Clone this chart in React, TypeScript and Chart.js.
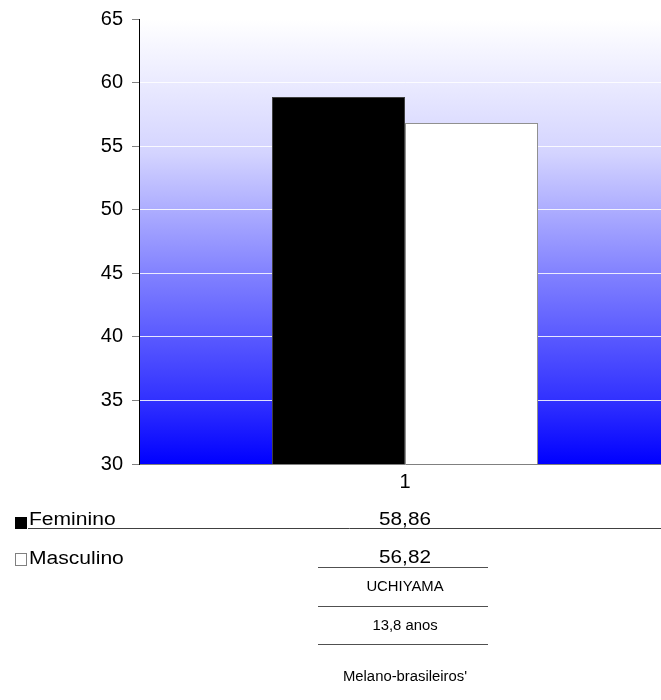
import React, { useEffect, useRef } from "react";
import { Chart, registerables } from "chart.js";

Chart.register(...registerables);

const categories = ["1"];
const femininoValues = [58.86];
const masculinoValues = [56.82];
const seriesNames = ["Feminino", "Masculino"];
const seriesColors = ["#000000", "#ffffff"];
const tableNotes = ["UCHIYAMA", "13,8 anos", "Melano-brasileiros'"];

const FONT = '"Liberation Sans", Arial, Helvetica, sans-serif';

const fmt = (v: number) => v.toFixed(2).replace(".", ",");

// Plot background: white at the top fading to pure blue at the base
const gradientBackground = {
  id: "gradientBackground",
  beforeDraw(chart: any) {
    const { ctx, chartArea } = chart;
    const g = ctx.createLinearGradient(0, chartArea.top, 0, chartArea.bottom);
    g.addColorStop(0, "#ffffff");
    g.addColorStop(0.3, "rgb(212,212,255)");
    g.addColorStop(0.57, "rgb(130,130,255)");
    g.addColorStop(0.86, "rgb(48,48,255)");
    g.addColorStop(1, "#0000ff");
    ctx.save();
    ctx.fillStyle = g;
    ctx.fillRect(chartArea.left, chartArea.top, chartArea.right - chartArea.left, chartArea.bottom - chartArea.top);
    ctx.restore();
  },
};

// text drawn slightly widened, like the table font of the original sheet
function wideText(ctx: CanvasRenderingContext2D, text: string, x: number, y: number, align: CanvasTextAlign, sx: number) {
  ctx.save();
  ctx.translate(x, y);
  ctx.scale(sx, 1);
  ctx.textAlign = align;
  ctx.fillText(text, 0, 0);
  ctx.restore();
}

// Data table under the chart: legend keys, values and notes
const dataTable = {
  id: "dataTable",
  afterDraw(chart: any) {
    const { ctx } = chart;
    const xScale = chart.scales.x;
    const cx = xScale.getPixelForValue(0);
    const width = chart.width;
    ctx.save();
    ctx.textBaseline = "middle";

    const values = [femininoValues[0], masculinoValues[0]];
    const boxTops = [517, 553];
    const nameYs = [520, 559];
    const valueYs = [520, 558];
    seriesNames.forEach((name, i) => {
      ctx.fillStyle = seriesColors[i];
      ctx.fillRect(15, boxTops[i], 12, 12);
      if (i === 1) {
        ctx.strokeStyle = "#808080";
        ctx.lineWidth = 1;
        ctx.strokeRect(15.5, boxTops[i] + 0.5, 11, 12);
      }
      ctx.fillStyle = "#000";
      ctx.font = `18px ${FONT}`;
      wideText(ctx, name, 29, nameYs[i], "left", 1.17);
      wideText(ctx, fmt(values[i]), cx, valueYs[i], "center", 1.15);
    });

    // full-width rule under the first row
    ctx.strokeStyle = "#404040";
    ctx.lineWidth = 1;
    ctx.beginPath();
    ctx.moveTo(28, 528.5);
    ctx.lineTo(width, 528.5);
    ctx.stroke();

    // column rules
    const ruleYs = [567.5, 606.5, 644.5];
    ctx.strokeStyle = "#505050";
    ruleYs.forEach((ry) => {
      ctx.beginPath();
      ctx.moveTo(cx - 87, ry);
      ctx.lineTo(cx + 83, ry);
      ctx.stroke();
    });

    // notes
    ctx.font = `14px ${FONT}`;
    ctx.fillStyle = "#000";
    const noteYs = [587, 626, 677];
    tableNotes.forEach((t, i) => wideText(ctx, t, cx, noteYs[i], "center", 1.06));
    ctx.restore();
  },
};

export default function App() {
  const canvasRef = useRef<HTMLCanvasElement | null>(null);

  useEffect(() => {
    if (!canvasRef.current) return;
    const chart = new Chart(canvasRef.current, {
      type: "bar",
      data: {
        labels: categories,
        datasets: [
          {
            label: seriesNames[0],
            data: femininoValues,
            backgroundColor: seriesColors[0],
            borderColor: "#404040",
            borderWidth: 1,
          },
          {
            label: seriesNames[1],
            data: masculinoValues,
            backgroundColor: seriesColors[1],
            borderColor: "#909090",
            borderWidth: 1,
          },
        ],
      },
      options: {
        responsive: false,
        animation: false,
        layout: { padding: { top: 19, left: 0, right: 0, bottom: 0 } },
        plugins: {
          legend: { display: false },
          tooltip: { enabled: false },
          title: { display: false },
        },
        datasets: {
          bar: { categoryPercentage: 0.5, barPercentage: 1 },
        },
        scales: {
          x: {
            grid: { display: false, drawTicks: false },
            border: { display: true, color: "#808080", width: 1 },
            ticks: { color: "#000", font: { family: FONT, size: 20 }, padding: 6 },
            afterFit(scale: any) {
              scale.height = 236;
              scale.paddingLeft = 0;
              scale.paddingRight = 0;
            },
          },
          y: {
            min: 30,
            max: 65,
            ticks: { stepSize: 5, color: "#000", font: { family: FONT, size: 20 }, padding: 9 },
            grid: {
              color: (c: any) =>
                c.tick && c.tick.value > 30 && c.tick.value < 65 ? "rgba(255,255,255,0.85)" : "rgba(0,0,0,0)",
              tickColor: "#808080",
              tickLength: 7,
              lineWidth: 1,
            },
            border: { display: true, color: "#000", width: 1 },
            afterFit(scale: any) {
              scale.width = 139;
              scale.paddingTop = 0;
              scale.paddingBottom = 0;
            },
          },
        },
      },
      plugins: [gradientBackground, dataTable],
    });
    return () => chart.destroy();
  }, []);

  return (
    <div style={{ position: "fixed", left: 0, top: 0, width: 661, height: 700, overflow: "hidden", background: "#fff" }}>
      <canvas ref={canvasRef} width={671} height={700} style={{ display: "block" }} />
    </div>
  );
}
